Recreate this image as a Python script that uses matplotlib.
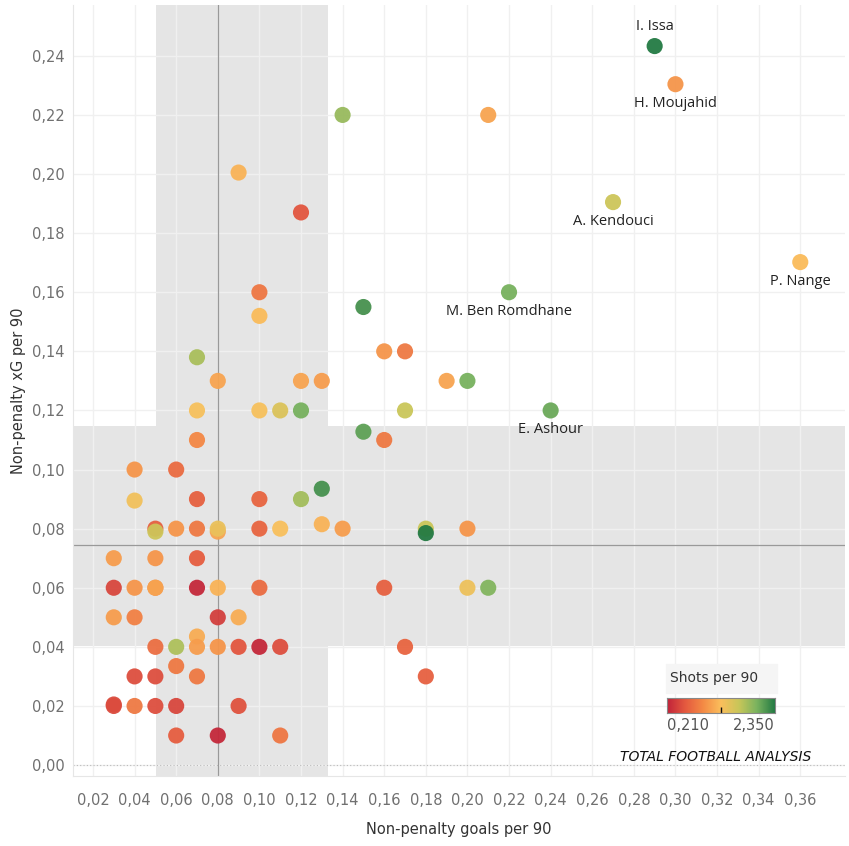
import matplotlib.pyplot as plt
import numpy as np
from matplotlib.colors import LinearSegmentedColormap, Normalize
from matplotlib.ticker import FuncFormatter, MultipleLocator

# non-penalty goals per 90, non-penalty xG per 90, shots per 90
npg = [0.29, 0.30, 0.21, 0.14, 0.09, 0.27, 0.12, 0.36, 0.10, 0.22,
       0.15, 0.10, 0.16, 0.17, 0.07, 0.08, 0.12, 0.13, 0.19, 0.20,
       0.07, 0.10, 0.11, 0.12, 0.17, 0.24, 0.07, 0.15, 0.16, 0.04,
       0.06, 0.04, 0.07, 0.10, 0.12, 0.13, 0.05, 0.05, 0.06, 0.07,
       0.08, 0.08, 0.10, 0.11, 0.13, 0.14, 0.18, 0.18, 0.20, 0.03,
       0.05, 0.07, 0.03, 0.04, 0.05, 0.05, 0.07, 0.08, 0.10, 0.16,
       0.20, 0.21, 0.03, 0.04, 0.08, 0.09, 0.07, 0.05, 0.06, 0.07,
       0.08, 0.09, 0.10, 0.11, 0.17, 0.06, 0.04, 0.05, 0.07, 0.18,
       0.03, 0.03, 0.04, 0.05, 0.06, 0.09, 0.06, 0.08, 0.11]
npxg = [0.2433, 0.2304, 0.220, 0.220, 0.2005, 0.1905, 0.187, 0.1702, 0.160, 0.160,
        0.155, 0.152, 0.140, 0.140, 0.138, 0.130, 0.130, 0.130, 0.130, 0.130,
        0.120, 0.120, 0.120, 0.120, 0.120, 0.120, 0.110, 0.1128, 0.110, 0.100,
        0.100, 0.0895, 0.090, 0.090, 0.090, 0.0935, 0.080, 0.079, 0.080, 0.080,
        0.079, 0.080, 0.080, 0.080, 0.0815, 0.080, 0.080, 0.0785, 0.080, 0.070,
        0.070, 0.070, 0.060, 0.060, 0.060, 0.060, 0.060, 0.060, 0.060, 0.060,
        0.060, 0.060, 0.050, 0.050, 0.050, 0.050, 0.0435, 0.040, 0.040, 0.040,
        0.040, 0.040, 0.040, 0.040, 0.040, 0.0335, 0.030, 0.030, 0.030, 0.030,
        0.0205, 0.020, 0.020, 0.020, 0.020, 0.020, 0.010, 0.010, 0.010]
shots = [2.35, 1.00, 1.10, 1.85, 1.20, 1.60, 0.55, 1.25, 0.78, 2.00,
         2.20, 1.25, 1.00, 0.80, 1.78, 1.10, 1.10, 1.05, 1.10, 2.00,
         1.32, 1.32, 1.50, 2.00, 1.62, 2.05, 0.90, 2.10, 0.80, 1.00,
         0.70, 1.35, 0.62, 0.65, 1.80, 2.20, 0.62, 1.60, 1.00, 0.80,
         1.10, 1.40, 0.65, 1.30, 1.20, 1.05, 1.62, 2.35, 1.00, 1.05,
         1.00, 0.60, 0.45, 1.00, 0.90, 1.10, 0.25, 1.20, 0.70, 0.62,
         1.38, 1.95, 1.05, 0.85, 0.40, 1.15, 1.15, 0.72, 1.75, 1.05,
         1.00, 0.55, 0.25, 0.50, 0.65, 0.80, 0.50, 0.50, 0.80, 0.62,
         0.48, 0.48, 0.80, 0.50, 0.45, 0.52, 0.60, 0.25, 0.78]

names = {0: "I. Issa", 1: "H. Moujahid", 5: "A. Kendouci", 7: "P. Nange",
         9: "M. Ben Romdhane", 25: "E. Ashour"}

shots_min, shots_max = 0.21, 2.35
med_x, med_y = 0.08, 0.0745
band_x = (0.0503, 0.133)
band_y = (0.0403, 0.1147)

cmap = LinearSegmentedColormap.from_list(
    "rdgogn", ['#c1233a', '#e4593f', '#f48a45', '#fbbf5c', '#c8c659', '#7ab35f', '#237a43'])
norm = Normalize(shots_min, shots_max)

fig = plt.figure(figsize=(8.49, 8.46), dpi=100)
ax = fig.add_axes([73/849, 1-776/846, (845-73)/849, (776-5)/846])

ax.set_xlim(0.0104, 0.3815)
ax.set_ylim(-0.0037, 0.2572)

# shaded bands
ax.axvspan(*band_x, color='#e5e5e5', zorder=0, lw=0)
ax.axhspan(*band_y, color='#e5e5e5', zorder=0, lw=0)

ax.xaxis.set_major_locator(MultipleLocator(0.02))
ax.yaxis.set_major_locator(MultipleLocator(0.02))
ax.grid(True, color='#f0f0f0', lw=1, zorder=1)
ax.set_axisbelow(True)
ax.axhline(0, color='#bbbbbb', lw=0.8, ls=(0, (1, 2)), zorder=1)

ax.axvline(med_x, color='#999999', lw=0.9, zorder=2)
ax.axhline(med_y, color='#999999', lw=0.9, zorder=2)

ax.scatter(npg, npxg, c=shots, cmap=cmap, norm=norm, s=135, lw=0, alpha=0.95, zorder=3)

for i, nm in names.items():
    dy = 14 if i == 0 else -14
    ax.annotate(nm, (npg[i], npxg[i]), xytext=(0, dy), textcoords='offset points',
                ha='center', va='center', fontsize=10.5, color='#222222',
                family='Open Sans', zorder=4)

fmt = FuncFormatter(lambda v, p: f"{v:.2f}".replace('.', ','))
ax.xaxis.set_major_formatter(fmt)
ax.yaxis.set_major_formatter(fmt)
ax.set_xticks(np.arange(0.02, 0.37, 0.02))
ax.set_yticks(np.arange(0.0, 0.25, 0.02))
ax.tick_params(length=0, labelsize=10.5, labelcolor='#707070')
ax.tick_params(axis='x', pad=12)
ax.tick_params(axis='y', pad=6)
for s in ['top', 'right']:
    ax.spines[s].set_visible(False)
for s in ['left', 'bottom']:
    ax.spines[s].set_color('#e6e6e6')

ax.set_xlabel("Non-penalty goals per 90", fontsize=10.5, color='#333333', labelpad=10)
ax.set_ylabel("Non-penalty xG per 90", fontsize=10.5, color='#333333', labelpad=4)

# colour legend
fig.patches.append(plt.Rectangle((666/849, 1-693/846), 111/849, 29/846,
                                 transform=fig.transFigure, color='#f5f5f5', zorder=0))
fig.text(670/849, 1-678/846, "Shots per 90", fontsize=10, color='#333333', va='center')
cax = fig.add_axes([667/849, 1-713/846, 108/849, 15/846])
cax.imshow(np.linspace(0, 1, 256)[None, :], aspect='auto', cmap=cmap, extent=[0, 1, 0, 1])
cax.set_xlim(0, 1)
cax.set_ylim(0, 1)
cax.set_xticks([0.5])
cax.set_xticklabels([])
cax.tick_params(axis='x', length=4, width=1, color='#111111', direction='in', bottom=True)
cax.set_yticks([])
for s in cax.spines.values():
    s.set_color('#888888')
fig.text(667/849, 1-725/846, f"{shots_min:.3f}".replace('.', ','), fontsize=10.5,
         color='#555555', va='center', ha='left')
fig.text(775/849, 1-725/846, f"{shots_max:.3f}".replace('.', ','), fontsize=10.5,
         color='#555555', va='center', ha='right')

fig.text(716/849, 1-757/846, "TOTAL FOOTBALL ANALYSIS", fontsize=10, color='#111111',
         ha='center', va='center', family='DejaVu Sans', style='italic')

fig.savefig("out.png", dpi=100)
